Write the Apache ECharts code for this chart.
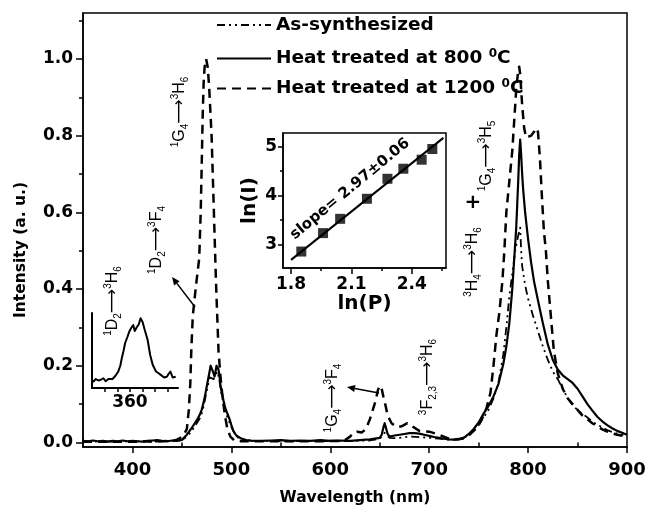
<!DOCTYPE html>
<html><head><meta charset="utf-8">
<script src="https://cdn.jsdelivr.net/npm/echarts@6/dist/echarts.min.js"></script>
<style>html,body{margin:0;padding:0;background:#fff}#c{width:645px;height:507px}</style>
</head><body><div id="c"></div>
<script>
// ---------- data ----------
const seriesNames = ['As-synthesized', 'Heat treated at 800 0C', 'Heat treated at 1200 0C'];

const wlAs = [350,360,370,380,390,400,410,420,430,440,445,450,455,460,465,468,470,472,474,476,478,480,482,484,486,488,490,493,496,500,505,510,520,540,560,580,600,620,640,645,650,653,655,657,660,665,670,680,690,700,710,720,730,740,745,750,755,760,765,770,775,778,781,784,787,790,792,793,794,797,800,805,810,815,820,825,830,835,840,846,852,860,866,873,880,886,893,900];
const intAs = [0.003,0.002,0.003,0.002,0.003,0.002,0.003,0.002,0.003,0.003,0.004,0.006,0.015,0.03,0.05,0.062,0.075,0.095,0.12,0.145,0.17,0.175,0.165,0.175,0.185,0.16,0.125,0.09,0.065,0.04,0.015,0.008,0.004,0.004,0.003,0.004,0.003,0.004,0.005,0.007,0.01,0.018,0.025,0.018,0.012,0.011,0.012,0.015,0.014,0.012,0.01,0.007,0.008,0.018,0.03,0.045,0.065,0.085,0.115,0.155,0.23,0.3,0.38,0.44,0.5,0.54,0.56,0.5,0.46,0.41,0.375,0.33,0.29,0.25,0.215,0.185,0.165,0.14,0.115,0.094,0.08,0.065,0.052,0.042,0.032,0.026,0.021,0.018];

const wl800 = [350,355,360,365,370,375,380,385,390,395,400,405,410,415,420,425,430,435,440,445,450,455,460,463,466,468,470,472,474,476,478,479,480,481,482,483,484,485,486,487,488,489,490,492,494,496,498,500,502,505,510,515,520,530,540,550,560,570,580,590,600,610,620,630,640,645,650,652,654,655,656,658,660,665,670,675,680,685,690,695,700,705,710,715,720,725,730,735,740,745,750,755,760,765,770,775,778,781,784,786,788,789,790,791,792,793,794,795,797,800,803,806,810,815,820,825,830,835,840,845,850,855,860,865,870,875,880,885,890,895,900];
const int800 = [0.004,0.003,0.005,0.003,0.004,0.002,0.004,0.003,0.005,0.003,0.004,0.003,0.002,0.004,0.005,0.006,0.004,0.003,0.005,0.004,0.007,0.02,0.038,0.05,0.062,0.072,0.085,0.105,0.13,0.158,0.185,0.2,0.195,0.187,0.18,0.172,0.185,0.2,0.205,0.19,0.172,0.15,0.135,0.11,0.088,0.075,0.062,0.045,0.03,0.018,0.01,0.006,0.005,0.004,0.005,0.006,0.004,0.005,0.004,0.006,0.004,0.005,0.004,0.006,0.008,0.01,0.012,0.02,0.042,0.05,0.045,0.022,0.015,0.018,0.02,0.022,0.024,0.024,0.023,0.02,0.017,0.014,0.012,0.01,0.008,0.007,0.008,0.012,0.022,0.035,0.052,0.075,0.095,0.12,0.152,0.205,0.25,0.31,0.4,0.48,0.56,0.62,0.68,0.75,0.79,0.75,0.7,0.66,0.6,0.53,0.47,0.42,0.37,0.31,0.255,0.215,0.19,0.175,0.165,0.155,0.14,0.12,0.1,0.083,0.067,0.055,0.045,0.037,0.03,0.025,0.02];

const wl1200 = [350,370,390,410,430,440,445,448,452,455,457,458.5,459.5,461,464.5,467.5,469,470,471,472,473,474.5,476,477.5,480,482,483.5,484.5,485.7,487,489,491,493.5,496,499,503,510,530,560,590,610,615,620,623,627,632,636,640,643,646,648,650,652,654,656,658,662,667,672,678,684,690,700,710,720,725,735,740,745,750,755,758,762,765,768,771,774,776,778,781,784,786,788,790,791,792,794,796,798,800,803,806,808,810,812,814,816,818,820,823,826,830,835,840,845,850,855,860,865,870,875,880,890,900];
const int1200 = [0.002,0.002,0.002,0.002,0.003,0.004,0.007,0.011,0.02,0.035,0.085,0.155,0.24,0.33,0.415,0.48,0.6,0.72,0.85,0.94,0.98,1.0,0.98,0.93,0.8,0.63,0.5,0.415,0.33,0.24,0.17,0.12,0.07,0.035,0.015,0.005,0.003,0.003,0.003,0.003,0.004,0.006,0.015,0.025,0.028,0.026,0.035,0.06,0.085,0.11,0.135,0.148,0.14,0.115,0.095,0.07,0.05,0.04,0.042,0.05,0.04,0.03,0.028,0.02,0.01,0.007,0.01,0.018,0.03,0.045,0.07,0.09,0.13,0.2,0.28,0.34,0.42,0.5,0.6,0.68,0.76,0.84,0.92,0.97,0.98,0.96,0.88,0.82,0.795,0.79,0.8,0.81,0.82,0.81,0.74,0.64,0.55,0.5,0.42,0.33,0.24,0.18,0.14,0.115,0.1,0.085,0.07,0.06,0.05,0.042,0.034,0.028,0.02,0.015];

// inset: ln(I) vs ln(P)
const lnP = [1.851,1.959,2.044,2.177,2.279,2.358,2.449,2.502];
const lnI = [2.864,3.238,3.528,3.935,4.341,4.545,4.728,4.945];
const fitLnP = [1.80, 2.557];
const fitLnI = [2.695, 5.171];

// small inset: 1D2 -> 3H6 band
const wlSmall = [345.4,346.5,347.5,348.5,349.5,350.4,351.5,352.2,353.1,354.2,355.4,356.2,356.8,357.5,358.1,359,359.7,360.5,361.3,361.9,362.7,363.5,364.2,365,365.8,366.5,367,368,369,370.3,371.2,372.2,373.5,374.6,375.3,376,376.9,378.1];
const intSmall = [0.08,0.12,0.1,0.11,0.13,0.09,0.12,0.14,0.12,0.16,0.22,0.3,0.4,0.5,0.6,0.68,0.75,0.8,0.84,0.76,0.81,0.85,0.93,0.88,0.78,0.7,0.64,0.44,0.31,0.22,0.2,0.175,0.14,0.15,0.19,0.22,0.14,0.15];

// tick labels
const xMajor = [400,500,600,700,800,900];
const xMinor = [350,450,550,650,750,850];
const yMajor = [0,0.2,0.4,0.6,0.8,1.0];
const yMinor = [0.1,0.3,0.5,0.7,0.9,1.1];
const insXMajor = [1.8,2.1,2.4];
const insXMinor = [1.95,2.25,2.55];
const insYMajor = [3,4,5];
const insYMinor = [3.5,4.5];
const smallXTicks = [350,355,360,365,370,375];
const smallXLabels = [360];

// ---------- helpers ----------
function zip(a,b){const n=Math.min(a.length,b.length);const r=[];for(let i=0;i<n;i++)r.push([a[i],b[i]]);return r;}
const F = 'DejaVu Sans';
const AF = 'Liberation Sans, Arial, DejaVu Sans';
const black = '#000';

function axisCommon(extra){
  return Object.assign({
    type:'value', splitLine:{show:false},
    axisLine:{show:true, onZero:false, lineStyle:{color:black,width:1.5}},
  }, extra);
}

const annRich = {
  m:{fontFamily:AF,fontSize:16,fill:black,lineHeight:20,verticalAlign:'middle'},
  sp:{fontFamily:AF,fontSize:10,fill:black,lineHeight:10,verticalAlign:'top'},
  sb:{fontFamily:AF,fontSize:10,fill:black,lineHeight:10,verticalAlign:'bottom'},
  a:{fontFamily:'DejaVu Sans',fontSize:17,fill:black,lineHeight:20,verticalAlign:'middle'}
};
function ann(x,y,text,rot){
  return {type:'text', x:x, y:y, rotation:rot, z:50,
    style:{text:text, rich:annRich, align:'center', verticalAlign:'middle', fill:black, fontFamily:AF, fontSize:16}};
}
function arrow(x1,y1,x2,y2){
  const ang=Math.atan2(y2-y1,x2-x1), L=8, W=3.5;
  const bx=x2-L*Math.cos(ang), by=y2-L*Math.sin(ang);
  const px=-Math.sin(ang)*W, py=Math.cos(ang)*W;
  return [
    {type:'line', z:50, shape:{x1:x1,y1:y1,x2:bx,y2:by}, style:{stroke:black,lineWidth:1.5}},
    {type:'polygon', z:50, shape:{points:[[x2,y2],[bx+px,by+py],[bx-px,by-py]]}, style:{fill:black}}
  ];
}
const V = Math.PI/2;

const legendRich = {s:{fontFamily:F,fontWeight:'bold',fontSize:12,lineHeight:12,verticalAlign:'top',color:black}};
function legendFmt(n){ return n.replace(/ 0C$/, ' {s|0}C'); }
function mkLegend(name, top){
  return {data:[name], left:216, top:top, padding:0, itemWidth:54, itemHeight:14, selectedMode:false,
    formatter:legendFmt, itemStyle:{opacity:0},
    textStyle:{fontFamily:F, fontWeight:'bold', fontSize:18.5, color:black, lineHeight:22, rich:legendRich}};
}

const chart = echarts.init(document.getElementById('c'), null, {renderer:'canvas'});
chart.setOption({
  animation:false,
  backgroundColor:'#fff',
  grid:[
    {left:83, top:13, width:544, height:434, show:true, borderColor:black, borderWidth:1.5, containLabel:false, outerBoundsMode:'none'},
    {left:283, top:133, width:163, height:135, show:true, borderColor:black, borderWidth:1.5, backgroundColor:'#fff', containLabel:false, outerBoundsMode:'none'},
    {left:92, top:313, width:86, height:75, show:false, containLabel:false, outerBoundsMode:'none'}
  ],
  legend:[mkLegend(seriesNames[0],14), mkLegend(seriesNames[1],47.5), mkLegend(seriesNames[2],77.5)],
  xAxis:[
    axisCommon({gridIndex:0, min:350, max:900, position:'bottom',
      name:'Wavelength (nm)', nameLocation:'middle', nameGap:43,
      nameTextStyle:{fontFamily:F,fontWeight:'bold',fontSize:15.5,color:black},
      axisTick:{show:true, length:6, customValues:xMajor, lineStyle:{color:black,width:1.5}},
      axisLabel:{show:true, customValues:xMajor, margin:14, fontFamily:F, fontWeight:'bold', fontSize:18, color:black}}),
    axisCommon({gridIndex:0, min:350, max:900, position:'bottom', axisLine:{show:false},
      axisTick:{show:true, length:4, customValues:xMinor, lineStyle:{color:black,width:1.5}},
      axisLabel:{show:false}}),
    axisCommon({gridIndex:1, min:1.76, max:2.57, position:'bottom',
      name:'ln(P)', nameLocation:'middle', nameGap:24,
      nameTextStyle:{fontFamily:F,fontWeight:'bold',fontSize:20,color:black},
      axisTick:{show:true, length:6, customValues:insXMajor, lineStyle:{color:black,width:1.5}},
      axisLabel:{show:true, customValues:insXMajor, margin:8, formatter:v=>Number(v).toFixed(1), fontFamily:F, fontWeight:'bold', fontSize:17, color:black}}),
    axisCommon({gridIndex:1, min:1.76, max:2.57, position:'bottom', axisLine:{show:false},
      axisTick:{show:true, length:3, customValues:insXMinor, lineStyle:{color:black,width:1.5}},
      axisLabel:{show:false}}),
    axisCommon({gridIndex:2, min:345, max:379, position:'bottom',
      axisLine:{show:true, lineStyle:{color:black,width:2}},
      axisTick:{show:true, length:4, customValues:smallXTicks, lineStyle:{color:black,width:1.5}},
      axisLabel:{show:true, customValues:smallXLabels, margin:6, fontFamily:F, fontWeight:'bold', fontSize:17, color:black}})
  ],
  yAxis:[
    axisCommon({gridIndex:0, min:-0.012, max:1.12, position:'left',
      axisTick:{show:true, length:7, customValues:yMajor, lineStyle:{color:black,width:1.5}},
      axisLabel:{show:true, customValues:yMajor, margin:10, formatter:v=>Number(v).toFixed(1), fontFamily:F, fontWeight:'bold', fontSize:17, color:black}}),
    axisCommon({gridIndex:0, min:-0.012, max:1.12, position:'left', axisLine:{show:false},
      axisTick:{show:true, length:4, customValues:yMinor, lineStyle:{color:black,width:1.5}},
      axisLabel:{show:false}}),
    axisCommon({gridIndex:1, min:2.53, max:5.27, position:'left',
      name:'ln(I)', nameLocation:'middle', nameGap:23,
      nameTextStyle:{fontFamily:F,fontWeight:'bold',fontSize:20,color:black},
      axisTick:{show:true, length:5, customValues:insYMajor, lineStyle:{color:black,width:1.5}},
      axisLabel:{show:true, customValues:insYMajor, margin:6, fontFamily:F, fontWeight:'bold', fontSize:17, color:black}}),
    axisCommon({gridIndex:1, min:2.53, max:5.27, position:'left', axisLine:{show:false},
      axisTick:{show:true, length:3, customValues:insYMinor, lineStyle:{color:black,width:1.5}},
      axisLabel:{show:false}}),
    axisCommon({gridIndex:2, min:0, max:1, position:'left',
      axisLine:{show:true, lineStyle:{color:black,width:2}},
      axisTick:{show:false}, axisLabel:{show:false}})
  ],
  series:[
    {name:seriesNames[2], type:'line', xAxisIndex:0, yAxisIndex:0, data:zip(wl1200,int1200), symbol:'none',
      lineStyle:{color:black, width:2.5, type:[9,6], join:'round'}, itemStyle:{color:black}, z:2},
    {name:seriesNames[0], type:'line', xAxisIndex:0, yAxisIndex:0, data:zip(wlAs,intAs), symbol:'none',
      lineStyle:{color:black, width:1.8, type:[8,4,2,4,2,4], join:'round'}, itemStyle:{color:black}, z:3},
    {name:seriesNames[1], type:'line', xAxisIndex:0, yAxisIndex:0, data:zip(wl800,int800), symbol:'none',
      lineStyle:{color:black, width:2.2, type:'solid', join:'round'}, itemStyle:{color:black}, z:4},
    {name:'fit', type:'line', xAxisIndex:2, yAxisIndex:2, data:zip(fitLnP,fitLnI), symbol:'none',
      lineStyle:{color:black, width:2}, z:5},
    {name:'lnI', type:'scatter', xAxisIndex:2, yAxisIndex:2, data:zip(lnP,lnI), symbol:'rect', symbolSize:10,
      itemStyle:{color:black}, z:6},
    {name:'small', type:'line', xAxisIndex:4, yAxisIndex:4, data:zip(wlSmall,intSmall), symbol:'none',
      lineStyle:{color:black, width:2, join:'round'}, z:5}
  ],
  graphic:[
    {type:'text', x:21, y:250, rotation:V, z:50, style:{text:'Intensity (a. u.)', fontFamily:F, fontWeight:'bold', fontSize:15.5, fill:black, align:'center', verticalAlign:'middle'}},
    ann(180,112,'{sp|1}{m|G}{sb|4}{a|⟶}{sp|3}{m|H}{sb|6}',V),
    ann(157,240,'{sp|1}{m|D}{sb|2}{a|⟶}{sp|3}{m|F}{sb|4}',V),
    ann(113,301,'{sp|1}{m|D}{sb|2}{a|⟶}{sp|3}{m|H}{sb|6}',V),
    ann(333,398,'{sp|1}{m|G}{sb|4}{a|⟶}{sp|3}{m|F}{sb|4}',V),
    ann(428,377,'{sp|3}{m|F}{sb|2,3}{a|⟶}{sp|3}{m|H}{sb|6}',V),
    ann(473,262,'{sp|3}{m|H}{sb|4}{a|⟶}{sp|3}{m|H}{sb|6}',V),
    ann(487,156,'{sp|1}{m|G}{sb|4}{a|⟶}{sp|3}{m|H}{sb|5}',V),
    {type:'text', x:473, y:203, z:50, style:{text:'+', fontFamily:F, fontWeight:'bold', fontSize:20, fill:black, align:'center', verticalAlign:'middle'}},
    {type:'text', x:350, y:189, rotation:0.69, z:50, style:{text:'slope= 2.97±0.06', fontFamily:F, fontWeight:'bold', fontSize:15, fill:black, align:'center', verticalAlign:'middle'}},
    ...arrow(195,307,172,277),
    ...arrow(379,393,347,387)
  ]
});
</script></body></html>
